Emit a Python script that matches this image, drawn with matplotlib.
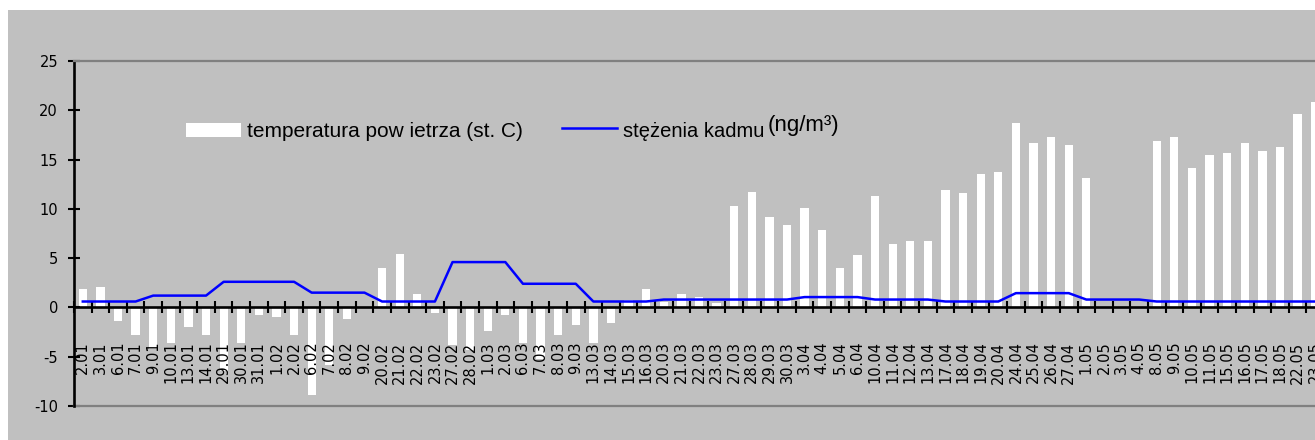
import numpy as np
import matplotlib
matplotlib.use("Agg")
import matplotlib.pyplot as plt
from matplotlib.patches import Rectangle
from matplotlib.lines import Line2D

# Measurement days (day.month)
dates = [
    "2.01", "3.01", "6.01", "7.01", "9.01", "10.01", "13.01", "14.01",
    "29.01", "30.01", "31.01", "1.02", "2.02", "6.02", "7.02", "8.02",
    "9.02", "20.02", "21.02", "22.02", "23.02", "27.02", "28.02", "1.03",
    "2.03", "6.03", "7.03", "8.03", "9.03", "13.03", "14.03", "15.03",
    "16.03", "20.03", "21.03", "22.03", "23.03", "27.03", "28.03", "29.03",
    "30.03", "3.04", "4.04", "5.04", "6.04", "10.04", "11.04", "12.04",
    "13.04", "17.04", "18.04", "19.04", "20.04", "24.04", "25.04", "26.04",
    "27.04", "1.05", "2.05", "3.05", "4.05", "8.05", "9.05", "10.05",
    "11.05", "15.05", "16.05", "17.05", "18.05", "22.05", "23.05",
]

# Air temperature (deg C)
temperature = [
    1.9, 2.1, -1.4, -2.8, -4.2, -3.6, -2.0, -2.8,
    -6.4, -3.6, -0.8, -1.0, -2.8, -8.9, -5.8, -1.2,
    0.0, 4.0, 5.4, 1.4, -0.6, -3.8, -4.3, -2.4,
    -0.8, -3.6, -5.2, -2.8, -1.8, -3.6, -1.6, 0.8,
    1.9, 0.6, 1.4, 1.1, 0.5, 10.3, 11.7, 9.2,
    8.4, 10.1, 7.9, 4.0, 5.3, 11.3, 6.4, 6.7,
    6.7, 11.9, 11.6, 13.5, 13.7, 18.7, 16.7, 17.3,
    16.5, 13.1, 0.0, 0.0, 0.0, 16.9, 17.3, 14.1,
    15.5, 15.7, 16.7, 15.9, 16.3, 19.6, 20.8,
]

# Cadmium concentration (ng/m3)
cadmium = [
    0.6, 0.6, 0.6, 0.6, 1.2, 1.2, 1.2, 1.2,
    2.6, 2.6, 2.6, 2.6, 2.6, 1.5, 1.5, 1.5,
    1.5, 0.6, 0.6, 0.6, 0.6, 4.6, 4.6, 4.6,
    4.6, 2.4, 2.4, 2.4, 2.4, 0.6, 0.6, 0.6,
    0.6, 0.8, 0.8, 0.8, 0.8, 0.8, 0.8, 0.8,
    0.8, 1.05, 1.05, 1.05, 1.05, 0.8, 0.8, 0.8,
    0.8, 0.6, 0.6, 0.6, 0.6, 1.45, 1.45, 1.45,
    1.45, 0.8, 0.8, 0.8, 0.8, 0.6, 0.6, 0.6,
    0.6, 0.6, 0.6, 0.6, 0.6, 0.6, 0.6,
]

y_ticks = [-10, -5, 0, 5, 10, 15, 20, 25]

legend_temp = "temperatura pow ietrza (st. C)"
legend_cd = "stężenia kadmu"
legend_cd_unit = "(ng/m³)"

W, H = 1315, 440
GRAY = "#C0C0C0"
BLUE = "#0000FF"

plt.rcParams["axes.unicode_minus"] = False

fig = plt.figure(figsize=(W / 100, H / 100), dpi=100, facecolor="white")


def fx(px):
    return px / W


def fy(py):
    return 1 - py / H


# chart area background
fig.patches.append(Rectangle((fx(8), 0), 1 - fx(8), fy(10),
                             transform=fig.transFigure,
                             facecolor=GRAY, edgecolor="none", zorder=-10))

ax = fig.add_axes([fx(74), fy(406), (1324 - 74) / W, (406 - 61) / H])
ax.set_zorder(1)
ax.set_facecolor(GRAY)

x = np.arange(len(dates))
ax.bar(x, temperature, width=0.47, color="white", zorder=1)
ax.plot(x, cadmium, color=BLUE, lw=1.8, zorder=3, solid_joinstyle="round")

ax.set_xlim(-0.5, len(dates) - 0.5)
ax.set_ylim(-10, 25)

# spines
ax.spines["left"].set_color("black")
ax.spines["left"].set_linewidth(1.9)
ax.spines["bottom"].set_position(("data", 0))
ax.spines["bottom"].set_color("black")
ax.spines["bottom"].set_linewidth(1.9)
ax.spines["bottom"].set_zorder(2)
ax.spines["top"].set_color("#808080")
ax.spines["top"].set_linewidth(1.6)
ax.spines["right"].set_visible(False)
ax.axhline(-10, color="#808080", lw=1.6, clip_on=False, zorder=2)

# y axis
ax.set_yticks(y_ticks)
ax.set_yticklabels([str(v) for v in y_ticks])
ax.tick_params(axis="y", direction="inout", length=9, width=1.5, pad=7,
               labelsize=10.5, labelfontfamily="DejaVu Sans", colors="black")

# x axis: tick marks between categories, labels at category centres
ax.set_xticks(np.arange(-0.5, len(dates) + 0.5, 1.0))
ax.tick_params(axis="x", which="major", direction="inout", length=9,
               width=1.5, labelbottom=False)
ax.set_xticks(x, minor=True)
ax.set_xticklabels(dates, minor=True, rotation=90)
ax.tick_params(axis="x", which="minor", length=0, pad=24.5,
               labelsize=10.5, labelfontfamily="DejaVu Sans")

# legend
fig.patches.append(Rectangle((fx(186), fy(136.7)), (240.7 - 186) / W,
                             (136.7 - 123.3) / H, transform=fig.transFigure,
                             facecolor="white", edgecolor="none", zorder=5))
fig.text(fx(247), fy(136.7), legend_temp, fontsize=15,
         family="Liberation Sans", va="baseline", ha="left", zorder=5)
fig.lines.append(Line2D([fx(562), fx(617)], [fy(128.3), fy(128.3)],
                        transform=fig.transFigure, color=BLUE, lw=1.8,
                        zorder=5))
fig.text(fx(623), fy(136.7), legend_cd, fontsize=14.5,
         family="Liberation Sans", va="baseline", ha="left", zorder=5)
fig.text(fx(768), fy(130.5), legend_cd_unit, fontsize=16,
         family="Liberation Sans", va="baseline", ha="left", zorder=5)

fig.savefig("out.png", dpi=100, facecolor=fig.get_facecolor())
